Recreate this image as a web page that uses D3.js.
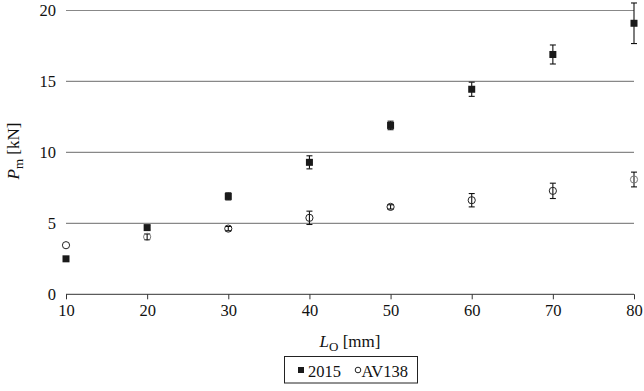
<!DOCTYPE html>
<meta charset="utf-8">
<html>
<head><title>Pm vs LO</title>
<script src="https://d3js.org/d3.v7.min.js"></script>
<style>
    body { margin: 0; background: #fff; }
    text { font-family: "Liberation Serif", "Times New Roman", serif; fill: #111; }
    .grid line { stroke: #888; stroke-width: 1.2; }
    .axis path, .axis line { stroke: #333; }
</style>
<script>
var W = 644, H = 391;

// data
var lengths = [10, 20, 30, 40, 50, 60, 70, 80];
var p2015 = [2.5, 4.7, 6.9, 9.3, 11.9, 14.45, 16.9, 19.1];
var err2015 = [0.1, 0.15, 0.25, 0.46, 0.3, 0.5, 0.67, 1.43];
var pAV138 = [3.46, 4.05, 4.63, 5.39, 6.16, 6.63, 7.29, 8.09];
var errAV138 = [0.1, 0.2, 0.15, 0.47, 0.15, 0.47, 0.54, 0.52];
var yTicks = [0, 5, 10, 15, 20];

function init() {
    var svg = d3.select("body").append("svg")
        .attr("width", W).attr("height", H);

    var x = d3.scaleLinear().domain([10, 80]).range([66, 634]);
    var y = d3.scaleLinear().domain([0, 20]).range([294.3, 10.5]);

    // horizontal grid
    svg.append("g").attr("class", "grid")
        .selectAll("line").data(yTicks.slice(1)).enter().append("line")
        .attr("x1", x(10)).attr("x2", x(80))
        .attr("y1", function(d) { return y(d); })
        .attr("y2", function(d) { return y(d); });

    // y tick labels
    svg.append("g").selectAll("text").data(yTicks).enter().append("text")
        .attr("x", 56).attr("y", function(d) { return y(d) + 5.5; })
        .attr("text-anchor", "end").attr("font-size", 16.5)
        .text(function(d) { return d; });

    // x axis
    var xAxis = d3.axisBottom(x).tickValues(lengths).tickSize(5).tickPadding(5);
    var gx = svg.append("g").attr("class", "axis")
        .attr("transform", "translate(0," + y(0) + ")")
        .call(xAxis);
    gx.select(".domain").attr("d", "M" + x(10) + ",0H" + x(80));
    gx.selectAll(".tick line").attr("y2", 5);
    gx.selectAll("text").attr("font-size", 16.5)
        .style("font-family", "'Liberation Serif', serif").attr("fill", "#111");

    // error bars
    function errBars(vals, errs) {
        var g = svg.append("g").attr("stroke", "#111").attr("stroke-width", 1.1);
        lengths.forEach(function(l, i) {
            var cx = x(l), y1 = y(vals[i] + errs[i]), y2 = y(vals[i] - errs[i]);
            if (y2 - y1 < 4) return;
            g.append("line").attr("x1", cx).attr("x2", cx).attr("y1", y1).attr("y2", y2);
            g.append("line").attr("x1", cx - 3).attr("x2", cx + 3).attr("y1", y1).attr("y2", y1);
            g.append("line").attr("x1", cx - 3).attr("x2", cx + 3).attr("y1", y2).attr("y2", y2);
        });
    }
    errBars(p2015, err2015);
    errBars(pAV138, errAV138);

    // 2015 squares
    svg.append("g").selectAll("rect").data(p2015).enter().append("rect")
        .attr("x", function(d, i) { return x(lengths[i]) - 3.5; })
        .attr("y", function(d) { return y(d) - 3.5; })
        .attr("width", 7).attr("height", 7)
        .attr("fill", "#1a1a1a");

    // AV138 circles
    svg.append("g").selectAll("circle").data(pAV138).enter().append("circle")
        .attr("cx", function(d, i) { return x(lengths[i]); })
        .attr("cy", function(d) { return y(d); })
        .attr("r", 3.6)
        .attr("fill", "none")
        .attr("stroke", function(d, i) { return (i === 1 || i === 7) ? "#777" : "#222"; })
        .attr("stroke-width", 1);

    // axis titles
    var xt = svg.append("text").attr("x", 350).attr("y", 347)
        .attr("text-anchor", "middle").attr("font-size", 17);
    xt.append("tspan").attr("font-style", "italic").text("L");
    xt.append("tspan").attr("font-size", 13).attr("dy", 4).text("O");
    xt.append("tspan").attr("dy", -4).text(" [mm]");

    var yt = svg.append("text").attr("transform", "translate(19,151) rotate(-90)")
        .attr("text-anchor", "middle").attr("font-size", 17);
    yt.append("tspan").attr("font-style", "italic").text("P");
    yt.append("tspan").attr("font-size", 13).attr("dy", 4).text("m");
    yt.append("tspan").attr("dy", -4).text(" [kN]");

    // legend
    var lg = svg.append("g");
    lg.append("rect").attr("x", 284.5).attr("y", 356.5).attr("width", 133).attr("height", 26.5)
        .attr("fill", "#fff").attr("stroke", "#222").attr("stroke-width", 1);
    lg.append("rect").attr("x", 298).attr("y", 367).attr("width", 6).attr("height", 6).attr("fill", "#1a1a1a");
    lg.append("text").attr("x", 308).attr("y", 377).attr("font-size", 16.5).text("2015");
    lg.append("circle").attr("cx", 358).attr("cy", 370).attr("r", 2.8)
        .attr("fill", "none").attr("stroke", "#222");
    lg.append("text").attr("x", 361.5).attr("y", 377).attr("font-size", 16.5).text("AV138");
}
</script>
</head>
<body onload="init()">
</body>
</html>
